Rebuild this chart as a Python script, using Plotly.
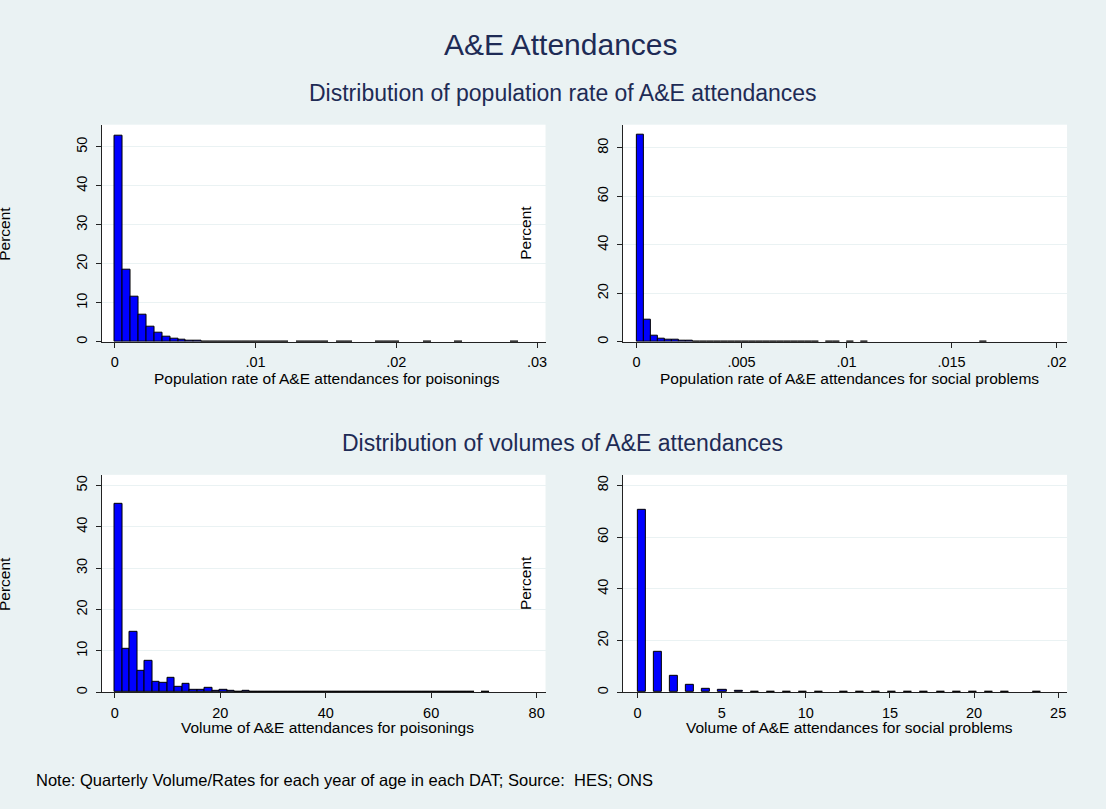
import numpy as np
import plotly.graph_objects as go

FONT = "Liberation Sans, Arial, Helvetica, sans-serif"
BG = "#EAF2F3"
NAVY = "#1E2B55"
BAR_FILL = "#0000FF"
AXIS_COL = "#222222"

# ---- Histogram data: percent of observations per bin ----
# Population rate of A&E attendances for poisonings
rate_pois_start, rate_pois_width = 0.0, 0.000562
rate_pois_pct = [53.0, 18.6, 11.6, 6.9, 4.0, 2.3, 1.3, 0.85, 0.5, 0.3, 0.2,
                 0.15, 0.1, 0.08, 0.07, 0.06, 0.05, 0.05, 0.04, 0.04, 0.03, 0.03,
                 0, 0.03, 0.03, 0.02, 0.02, 0, 0.02, 0.02, 0, 0, 0, 0.02, 0.02, 0.02,
                 0, 0, 0, 0.02, 0, 0, 0, 0.02, 0, 0, 0, 0, 0, 0, 0.02]

# Population rate of A&E attendances for social problems
rate_soc_start, rate_soc_width = 0.0, 0.000334
rate_soc_pct = [85.5, 9.1, 2.7, 1.5, 1.0, 0.7, 0.45, 0.3, 0.2, 0.15,
                0.12, 0.1, 0.08, 0.07, 0.06, 0.05, 0.05, 0.04, 0.04, 0.04,
                0.03, 0.03, 0.03, 0.03, 0.03, 0.03, 0, 0.03, 0.03, 0,
                0.03, 0, 0.03, 0, 0, 0, 0, 0, 0, 0,
                0, 0, 0, 0, 0, 0, 0, 0, 0, 0.03]

# Volume of A&E attendances for poisonings
vol_pois_start, vol_pois_width = 0.0, 1.42
vol_pois_pct = [45.5, 10.4, 14.5, 5.1, 7.6, 2.6, 2.2, 3.4, 1.3, 2.0,
                0.6, 0.6, 1.0, 0.4, 0.6, 0.3, 0.15, 0.3, 0.1, 0.1,
                0.08, 0.08, 0.06, 0.06, 0.05, 0.05, 0.05, 0.04, 0.04, 0.04,
                0.04, 0.03, 0.03, 0.03, 0.03, 0.03, 0.03, 0.03, 0.03, 0.03,
                0.03, 0.03, 0.03, 0.03, 0.03, 0.03, 0.03, 0.03, 0, 0.05]

# Volume of A&E attendances for social problems
vol_soc_start, vol_soc_width = 0.0, 0.48
vol_soc_pct = [70.7, 0, 15.8, 0, 6.3, 0, 3.0, 0, 1.5, 0,
               1.0, 0, 0.5, 0, 0.25, 0, 0.2, 0, 0.15, 0,
               0.15, 0, 0.12, 0, 0, 0.12, 0, 0.1, 0, 0.1,
               0, 0.1, 0, 0.08, 0, 0.08, 0, 0.08, 0, 0.08,
               0, 0.06, 0, 0.06, 0, 0.06, 0, 0, 0, 0.05]

# ---- Axis ticks ----
rate_pois_xticks = [0, 0.01, 0.02, 0.03]
rate_pois_xlabels = ["0", ".01", ".02", ".03"]
rate_soc_xticks = [0, 0.005, 0.01, 0.015, 0.02]
rate_soc_xlabels = ["0", ".005", ".01", ".015", ".02"]
vol_pois_xticks = [0, 20, 40, 60, 80]
vol_soc_xticks = [0, 5, 10, 15, 20, 25]
pct_ticks_50 = [0, 10, 20, 30, 40, 50]
pct_ticks_80 = [0, 20, 40, 60, 80]

W, H = 1106, 809


def hist_trace(start, width, pct, xa, ya):
    centers = start + (np.arange(len(pct)) + 0.5) * width
    heights = [v if v > 0 else None for v in pct]
    return go.Bar(
        x=centers, y=heights, width=width,
        marker=dict(color=BAR_FILL, line=dict(color="black", width=1)),
        xaxis=xa, yaxis=ya, showlegend=False, hoverinfo="skip",
    )


fig = go.Figure()
fig.add_trace(hist_trace(rate_pois_start, rate_pois_width, rate_pois_pct, "x", "y"))
fig.add_trace(hist_trace(rate_soc_start, rate_soc_width, rate_soc_pct, "x2", "y2"))
fig.add_trace(hist_trace(vol_pois_start, vol_pois_width, vol_pois_pct, "x3", "y3"))
fig.add_trace(hist_trace(vol_soc_start, vol_soc_width, vol_soc_pct, "x4", "y4"))

# panel boxes in pixels (left, right, top, bottom)
LEFT_COL = (101.7, 546.5)
RIGHT_COL = (624.0, 1069.0)
TOP_ROW = (125.0, 342.7)
BOT_ROW = (476.0, 694.0)


def xdom(c):
    return [c[0] / W, c[1] / W]


def ydom(r):
    return [1 - r[1] / H, 1 - r[0] / H]


tickfont = dict(family=FONT, size=14.5, color="black")


def xaxis(dom, anchor, rng, vals, text=None):
    d = dict(domain=xdom(dom), anchor=anchor, range=rng, tickvals=vals,
             showline=True, linecolor=AXIS_COL, linewidth=1,
             ticks="outside", ticklen=5, tickwidth=1, tickcolor=AXIS_COL,
             showgrid=False, zeroline=False, tickfont=tickfont,
             ticklabelstandoff=2, fixedrange=True)
    if text is not None:
        d["ticktext"] = text
    return d


def yaxis(dom, anchor, rng, vals):
    return dict(domain=ydom(dom), anchor=anchor, range=rng, tickvals=vals,
                showline=True, linecolor=AXIS_COL, linewidth=1,
                ticks="outside", ticklen=5, tickwidth=1, tickcolor=AXIS_COL,
                showgrid=True, gridcolor=BG, gridwidth=1, zeroline=False,
                tickangle=-90, tickfont=tickfont, ticklabelstandoff=3,
                fixedrange=True)


fig.update_layout(
    width=W, height=H, margin=dict(l=0, r=0, t=0, b=0),
    paper_bgcolor=BG, plot_bgcolor="white",
    bargap=0,
    xaxis=xaxis(LEFT_COL, "y", [-0.000943, 0.0306], rate_pois_xticks, rate_pois_xlabels),
    yaxis=yaxis(TOP_ROW, "x", [0, 55.7], pct_ticks_50),
    xaxis2=xaxis(RIGHT_COL, "y2", [-0.000651, 0.020504], rate_soc_xticks, rate_soc_xlabels),
    yaxis2=yaxis(TOP_ROW, "x2", [0, 89.6], pct_ticks_80),
    xaxis3=xaxis(LEFT_COL, "y3", [-2.52, 81.68], vol_pois_xticks),
    yaxis3=yaxis(BOT_ROW, "x3", [0, 52.58], pct_ticks_50),
    xaxis4=xaxis(RIGHT_COL, "y4", [-0.877, 25.53], vol_soc_xticks),
    yaxis4=yaxis(BOT_ROW, "x4", [0, 84.1], pct_ticks_80),
)


def px_note(text, x, y, size, color="black", angle=0, xanchor="center"):
    fig.add_annotation(
        text=text, x=x / W, y=1 - y / H, xref="paper", yref="paper",
        xanchor=xanchor, yanchor="middle", showarrow=False, textangle=angle,
        font=dict(family=FONT, size=size, color=color),
    )


# titles
px_note("A&E Attendances", 561.7, 44.5, 30, NAVY)
px_note("Distribution of population rate of A&E attendances", 564, 93, 23, NAVY)
px_note("Distribution of volumes of A&E attendances", 564, 444, 23, NAVY)

# axis titles
px_note("Population rate of A&E attendances for poisonings", 328, 379, 15.5)
px_note("Population rate of A&E attendances for social problems", 851, 379, 15.5)
px_note("Volume of A&E attendances for poisonings", 328, 729, 15.5)
px_note("Volume of A&E attendances for social problems", 851, 729, 15.5)

# y-axis titles
for yc in [(TOP_ROW[0] + TOP_ROW[1]) / 2, (BOT_ROW[0] + BOT_ROW[1]) / 2]:
    px_note("Percent", 4.5, yc, 15.5, angle=-90)
    px_note("Percent", 526.5, yc, 15.5, angle=-90)

# note
px_note("Note: Quarterly Volume/Rates for each year of age in each DAT; Source:  HES; ONS",
        34, 782, 16.5, xanchor="left")

fig.write_html("out.html")
